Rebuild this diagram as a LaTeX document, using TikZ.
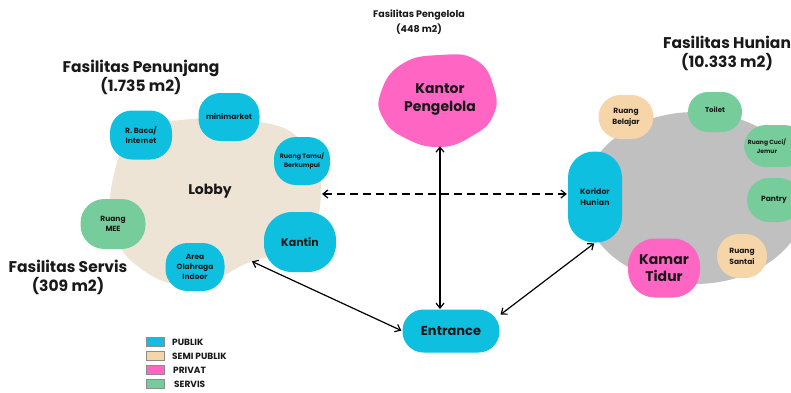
\documentclass[tikz,border=0pt]{standalone}
\usepackage{fontspec}
\setmainfont{Poppins}
\usetikzlibrary{arrows.meta,shapes.geometric}

\definecolor{publik}{RGB}{14,191,224}
\definecolor{semipublik}{RGB}{246,213,168}
\definecolor{privat}{RGB}{255,102,196}
\definecolor{servis}{RGB}{118,205,155}
\definecolor{lobbyisi}{RGB}{238,228,213}
\definecolor{hunianisi}{RGB}{192,192,192}
\definecolor{teks}{RGB}{25,25,25}

\newcommand\ukuran[2]{\bfseries\fontsize{#1}{#2}\selectfont}

\tikzset{
  ruang/.style={rounded corners=22, inner sep=0pt, align=center, text=teks},
  judul/.style={inner sep=0pt, align=center, text=teks, font=\ukuran{15.5}{19}},
  hubung/.style={line width=1.2pt, {Straight Barb[length=5pt,width=8pt]}-{Straight Barb[length=5pt,width=8pt]}, shorten <=1pt, shorten >=1pt},
  kotakleg/.style={draw=black!45, line width=0.6pt, minimum width=18, minimum height=9, inner sep=0pt},
  teksleg/.style={anchor=west, inner sep=0pt, text=teks, font=\ukuran{9}{10}},
}

\begin{document}
\begin{tikzpicture}[x=1pt,y=1pt,yscale=-1]
\useasboundingbox (0,0) rectangle (791,392);
\clip (0,0) rectangle (791,392);

% zona besar
\fill[lobbyisi] plot[smooth cycle, tension=0.8] coordinates {(170,121) (255,121) (305,145) (321,195) (300,245) (250,262) (195,285) (140,268) (113,225) (115,170) (135,133)};
\fill[hunianisi] (695,198) ellipse [x radius=112, y radius=86];
\fill[privat] plot[smooth cycle, tension=0.8] coordinates {(381,92) (402,64) (440,55) (476,60) (494,88) (493,116) (472,136) (440,147) (405,138) (383,118)};

% judul kelompok
\node[judul] (jpenunjang) at (141,77) {Fasilitas Penunjang\\(1.735 m2)};
\node[judul] (jservis) at (68,277) {Fasilitas Servis\\(309 m2)};
\node[judul] (jhunian) at (727,53) {Fasilitas Hunian\\(10.333 m2)};
\node[judul, font=\ukuran{9.5}{15}] (jpengelola) at (419,22) {Fasilitas Pengelola\\(448 m2)};

% fasilitas penunjang
\node[ruang, font=\ukuran{14}{17}] (lobby) at (210,191) {Lobby};
\node[ruang, fill=publik, minimum width=62, minimum height=49, font=\ukuran{7.5}{10}] (baca) at (141,135) {R. Baca/\\Internet};
\node[ruang, fill=publik, minimum width=61, minimum height=48, font=\ukuran{7.5}{10}] (minimarket) at (229,117) {minimarket};
\node[ruang, fill=publik, minimum width=56, minimum height=48, font=\ukuran{6.3}{9}] (tamu) at (302,161) {Ruang Tamu/\\Berkumpul};
\node[ruang, fill=publik, minimum width=72, minimum height=60, rounded corners=28, font=\ukuran{11}{13}] (kantin) at (300,242) {Kantin};
\node[ruang, fill=publik, minimum width=59, minimum height=48, font=\ukuran{7.5}{10}] (olahraga) at (195,267) {Area\\Olahraga\\Indoor};
\node[ruang, fill=servis, minimum width=65, minimum height=50, rounded corners=24, font=\ukuran{7.5}{10}] (mee) at (113,224) {Ruang\\MEE};

% fasilitas pengelola
\node[ruang, minimum width=112, minimum height=90, font=\ukuran{14}{18}] (kantor) at (440,100) {Kantor\\Pengelola};

% fasilitas hunian
\node[ruang, fill=publik, minimum width=54, minimum height=91, rounded corners=26, font=\ukuran{7.8}{11}] (koridor) at (595,197) {Koridor\\Hunian};
\node[ruang, fill=semipublik, minimum width=55, minimum height=44, font=\ukuran{7.5}{11}] (belajar) at (626,117) {Ruang\\Belajar};
\node[ruang, fill=servis, minimum width=54, minimum height=40, rounded corners=20, font=\ukuran{7}{10}] (toilet) at (715,112) {\raisebox{5pt}{Toilet}};
\node[ruang, fill=servis, minimum width=62, minimum height=42, font=\ukuran{6}{9}] (cuci) at (775,146) {};
\node[inner sep=0pt, align=center, text=teks, font=\ukuran{6}{9}] (tcuci) at (767,146) {Ruang Cuci/\\Jemur};
\node[ruang, fill=servis, minimum width=54, minimum height=44, font=\ukuran{7.5}{10}] (pantry) at (774,200) {Pantry};
\node[ruang, fill=semipublik, minimum width=50, minimum height=44, font=\ukuran{7.5}{11}] (santai) at (742,256) {Ruang\\Santai};
\node[ruang, fill=privat, minimum width=72, minimum height=59, rounded corners=27, font=\ukuran{14}{17}] (kamar) at (664,268) {Kamar\\Tidur};

% entrance
\node[ruang, fill=publik, minimum width=97, minimum height=43, rounded corners=21, font=\ukuran{13}{15}] (entrance) at (451,331) {Entrance};

% hubungan
\coordinate (lobbytimur) at (321,194);
\coordinate (lobbyselatan) at (251,261);
\draw[hubung, dashed, dash pattern=on 8pt off 5pt] (lobbytimur) -- (lobbytimur -| koridor.west);
\draw[hubung] (kantor.south -| 440,0) -- (440,310);
\draw[hubung] (lobbyselatan) -- (entrance.west);
\draw[hubung] (entrance.18) -- (koridor.south);

% legenda
\node[kotakleg, fill=publik] (lpublik) at (155,342) {};
\node[kotakleg, fill=semipublik] (lsemi) at (155,356) {};
\node[kotakleg, fill=privat] (lprivat) at (155,370) {};
\node[kotakleg, fill=servis] (lservis) at (155,384) {};
\node[teksleg] (tpublik) at (172,342) {PUBLIK};
\node[teksleg] (tsemi) at (172,356) {SEMI PUBLIK};
\node[teksleg] (tprivat) at (173,370) {PRIVAT};
\node[teksleg] (tservis) at (174,384) {SERVIS};
\end{tikzpicture}
\end{document}
